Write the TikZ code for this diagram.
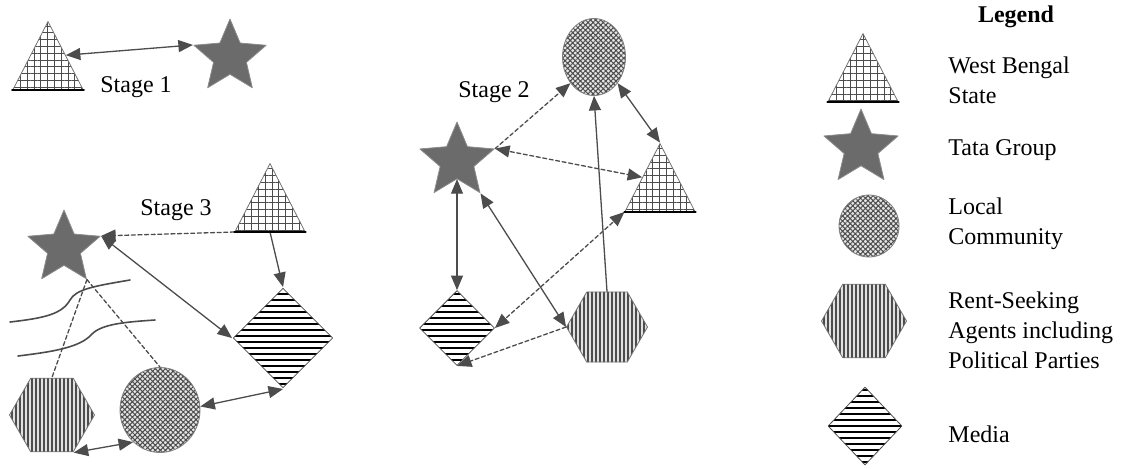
\documentclass[tikz,border=0pt]{standalone}
\usepackage{fontspec}
\setmainfont{Liberation Serif}
\usetikzlibrary{arrows,shapes.geometric,patterns.meta}

\begin{document}
\begin{tikzpicture}[line cap=round,line join=round,>=triangle 45,x=0.5pt,y=-0.5pt,font=\fontsize{12}{15}\selectfont,
    state/.style={isosceles triangle,shape border rotate=90,isosceles triangle stretches,
      minimum width=35pt,minimum height=34pt,inner sep=0pt,anchor=lower side,draw=black!55,
      pattern={Hatch[angle=0,distance=3.4pt,line width=0.45pt]},pattern color=black!70},
    firm/.style={star,star points=5,star point ratio=2.2,minimum size=#1,inner sep=0pt,fill=black!58,draw=black!45},
    community/.style 2 args={ellipse,minimum width=#1,minimum height=#2,inner sep=0pt,draw=black!50,
      preaction={fill=black!10},pattern={Hatch[angle=45,distance=1.8pt,line width=0.5pt]},pattern color=black!70},
    agents/.style={regular polygon,regular polygon sides=6,minimum size=#1,inner sep=0pt,draw=black!55,
      preaction={fill=black!12},pattern={Lines[angle=90,distance=2pt,line width=0.8pt]},pattern color=black!70},
    media/.style 2 args={diamond,minimum width=#1,minimum height=#2,inner sep=0pt,draw=black!70,
      pattern={Lines[angle=0,distance=3pt,line width=1pt]},pattern color=black},
    link/.style={draw=black!70,line width=0.65pt},
    dashlink/.style={link,dash pattern=on 2pt off 1.3pt},
    lbl/.style={anchor=base,inner sep=0pt},
    key/.style={anchor=west,align=left,inner sep=0pt}]
  \useasboundingbox (0,0) rectangle (1122,468);

  % stage 1
  \node[state] (t1) at (48,90) {};
  \node[firm=38pt] (s1) at (230,57) {};
  \node[lbl] (st1) at (136,92) {Stage 1};
  \draw[link,<->] (t1.right side) -- (s1.outer point 2);

  % stage 3
  \node[state] (t3) at (270,232) {};
  \node[firm=38pt] (s3) at (64,248) {};
  \node[media={50pt}{50pt}] (d3) at (283,338) {};
  \node[community={40pt}{42.5pt}] (c3) at (160,410) {};
  \node[agents=42.5pt] (h3) at (52,415) {};
  \node[lbl] (st3) at (176,215) {Stage 3};
  \draw[dashlink,->] (t3.left corner) -- (s3.outer point 5);
  \draw[link,->] (t3.lower side) -- (d3.north);
  \draw[link,<->] (s3.outer point 5) -- (d3.west);
  \draw[link,<->] (d3.south) -- (c3.5);
  \draw[link,<->] (h3.-60) -- (c3.230);
  \draw[dashlink] (s3.outer point 4) -- (h3.north);
  \draw[dashlink] (s3.outer point 4) -- (c3.north);
  \draw[black!70,line width=0.8pt] (10,322) .. controls (45,318) and (62,314) .. (70,300)
    .. controls (76,289) and (95,286) .. (130,280);
  \draw[black!70,line width=0.8pt] (18,356) .. controls (50,352) and (80,348) .. (92,334)
    .. controls (102,324) and (125,322) .. (155,320);

  % stage 2
  \node[state] (t2) at (660,212) {};
  \node[firm=39pt] (s2) at (457,161) {};
  \node[community={31.5pt}{38.5pt}] (c2) at (594,57) {};
  \node[media={37.5pt}{37.5pt}] (d2) at (457,328) {};
  \node[agents=40.5pt] (h2) at (607,327) {};
  \node[lbl] (st2) at (494,97) {Stage 2};
  \draw[dashlink,->] (s2.outer point 5) -- (c2.228);
  \draw[link,<->] (c2.-48) -- (t2.apex);
  \draw[dashlink,<->] (s2.outer point 5) -- (t2.left side);
  \draw[link,<->] (d2.north) -- (s2.south);
  \draw[link,<->] (s2.outer point 4) -- (h2.west);
  \draw[link,->] (h2.north) -- (c2.south);
  \draw[dashlink,<->] (t2.left corner) -- (d2.east);
  \draw[dashlink,->] (h2.west) -- (d2.south);

  % legend
  \node[lbl] (leg) at (1016,22) {\bfseries Legend};
  \node[state] (tL) at (863,102) {};
  \node[firm=39pt] (sL) at (861,148) {};
  \node[community={30pt}{31pt}] (cL) at (869,226) {};
  \node[agents=42.5pt] (hL) at (864,321) {};
  \node[media={37pt}{39pt}] (dL) at (865,426) {};
  \node[key] (kState) at (948,80) {West Bengal\\State};
  \node[key] (kFirm) at (948,150) {Tata Group};
  \node[key] (kComm) at (948,224) {Local\\Community};
  \node[key] (kAgents) at (948,330) {Rent-Seeking\\Agents including\\Political Parties};
  \node[key] (kMedia) at (948,434) {Media};

  \foreach \t in {t1,t2,t3,tL}
    \draw[line width=1.1pt] (\t.left corner) -- (\t.right corner);
\end{tikzpicture}
\end{document}
